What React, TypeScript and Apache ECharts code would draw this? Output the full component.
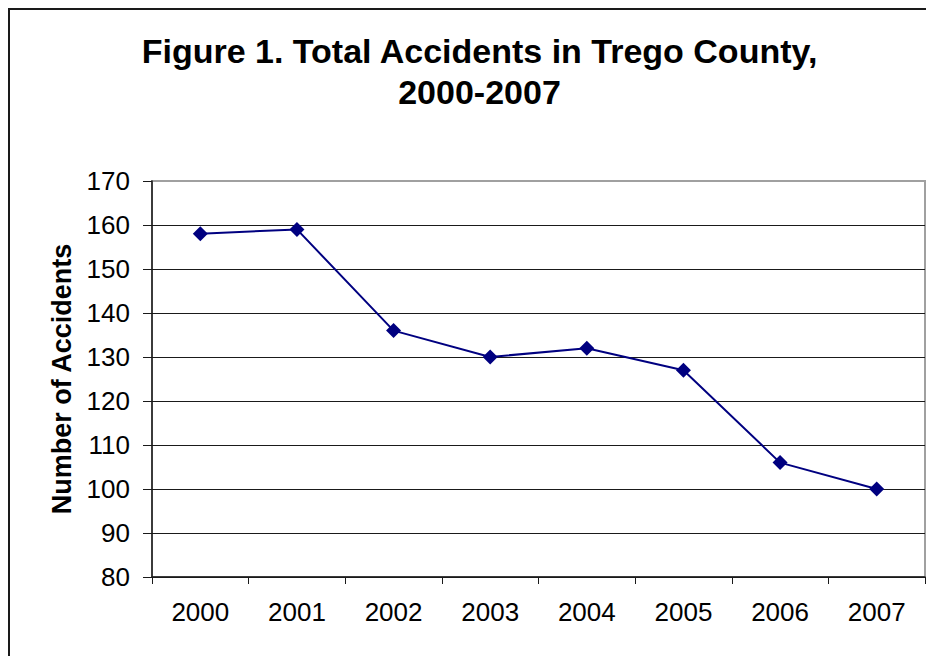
import React, { useEffect, useRef } from "react";
import * as echarts from "echarts";

const years = ["2000", "2001", "2002", "2003", "2004", "2005", "2006", "2007"];
const accidents = [158, 159, 136, 130, 132, 127, 106, 100];
const yMin = 80;
const yMax = 170;
const yStep = 10;
const titleLine1 = "Figure 1. Total Accidents in Trego County,";
const titleLine2 = "2000-2007";
const yAxisName = "Number of Accidents";

const FONT = "'Liberation Sans', Arial, Helvetica, sans-serif";

export default function App() {
  const ref = useRef<HTMLDivElement>(null);
  useEffect(() => {
    if (!ref.current) return;
    const chart = echarts.init(ref.current, undefined, { renderer: "svg" });
    const nLines = (yMax - yMin) / yStep + 1;
    const splitColors = Array.from({ length: nLines }, (_, i) =>
      i === nLines - 1 ? "#a0a0a0" : "#1a1a1a"
    );
    chart.setOption({
      animation: false,
      backgroundColor: "#ffffff",
      graphic: [
        {
          type: "rect",
          shape: { x: 1, y: 1, width: 2000, height: 2000 },
          style: { fill: "none", stroke: "#1a1a1a", lineWidth: 2 },
          silent: true,
          z: 100,
        },
        {
          type: "text",
          x: 471.5,
          y: 42.5,
          style: {
            text: titleLine1,
            font: `bold 34px ${FONT}`,
            fill: "#000",
            align: "center",
            verticalAlign: "middle",
          },
        },
        {
          type: "text",
          x: 471.5,
          y: 83.5,
          style: {
            text: titleLine2,
            font: `bold 34px ${FONT}`,
            fill: "#000",
            align: "center",
            verticalAlign: "middle",
          },
        },
      ],
      grid: {
        left: 144,
        top: 173,
        right: 9,
        bottom: 79,
        show: true,
        borderColor: "#a0a0a0",
        borderWidth: 2,
        backgroundColor: "transparent",
      },
      xAxis: {
        type: "category",
        data: years,
        boundaryGap: true,
        axisLine: { show: true, lineStyle: { color: "#1a1a1a", width: 1.5 } },
        axisTick: { show: true, length: 7, lineStyle: { color: "#1a1a1a", width: 1 } },
        axisLabel: {
          color: "#000",
          fontSize: 26,
          fontFamily: FONT,
          margin: 22,
        },
        splitLine: { show: false },
      },
      yAxis: {
        type: "value",
        min: yMin,
        max: yMax,
        interval: yStep,
        name: yAxisName,
        nameLocation: "middle",
        nameGap: 71,
        nameTextStyle: {
          color: "#000",
          fontSize: 27,
          fontWeight: "bold",
          fontFamily: FONT,
        },
        axisLine: { show: true, lineStyle: { color: "#1a1a1a", width: 1.5 } },
        axisTick: { show: true, length: 9, lineStyle: { color: "#1a1a1a", width: 1 } },
        axisLabel: {
          color: "#000",
          fontSize: 26,
          fontFamily: FONT,
          margin: 22,
        },
        splitLine: { show: true, lineStyle: { color: splitColors, width: 1 } },
      },
      series: [
        {
          type: "line",
          data: accidents,
          symbol: "diamond",
          symbolSize: 15,
          showSymbol: true,
          lineStyle: { color: "#000080", width: 2 },
          itemStyle: { color: "#000080" },
          z: 10,
        },
      ],
    });
    return () => chart.dispose();
  }, []);
  return <div ref={ref} style={{ width: 926, height: 648 }} />;
}
